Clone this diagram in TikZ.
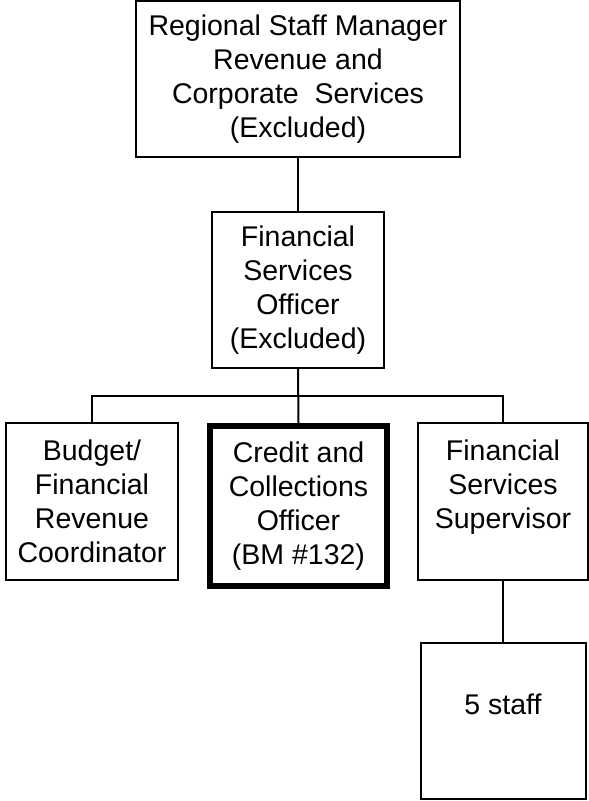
\documentclass[tikz,border=0pt]{standalone}
\usepackage{fontspec}
\setmainfont{Liberation Sans}
\begin{document}
\begin{tikzpicture}[x=1pt,y=-1pt,
  box/.style={draw=black,line width=2pt,rectangle,inner sep=0pt,align=center,
    font=\fontsize{28.5}{34}\selectfont},
  thickbox/.style={box,line width=6.5pt},
  conn/.style={draw=black,line width=2pt}]
\useasboundingbox (0,0) rectangle (589,801);
\fill[white] (0,0) rectangle (589,801);
\node[box,minimum width=324pt,minimum height=156pt] (rsm) at (298,79)
  {Regional Staff Manager\\Revenue and\\Corporate\ \ Services\\(Excluded)};
\node[box,minimum width=172pt,minimum height=156pt] (fso) at (298,290)
  {Financial\\Services\\Officer\\(Excluded)};
\node[box,minimum width=172pt,minimum height=157pt] (bud) at (92,501.5)
  {Budget/\\Financial\\Revenue\\Coordinator};
\node[thickbox,minimum width=177pt,minimum height=160pt] (cco) at (298.5,506)
  {Credit and\\Collections\\Officer\\(BM \#132)};
\node[box,minimum width=170pt,minimum height=157pt] (fss) at (503,501.5)
  {Financial\\Services\\Supervisor\\\mbox{}};
\node[box,minimum width=165pt,minimum height=156pt] (stf) at (503,721)
  {5 staff\\\mbox{}};
\coordinate (bus) at (298,396);
\draw[conn] (rsm.south) -- (fso.north);
\draw[conn] (fso.south) -- (cco.north);
\draw[conn] (bud.north) -- (bud.north |- bus) -- (fss.north |- bus) -- (fss.north);
\draw[conn] (fss.south) -- (stf.north);
\end{tikzpicture}
\end{document}
